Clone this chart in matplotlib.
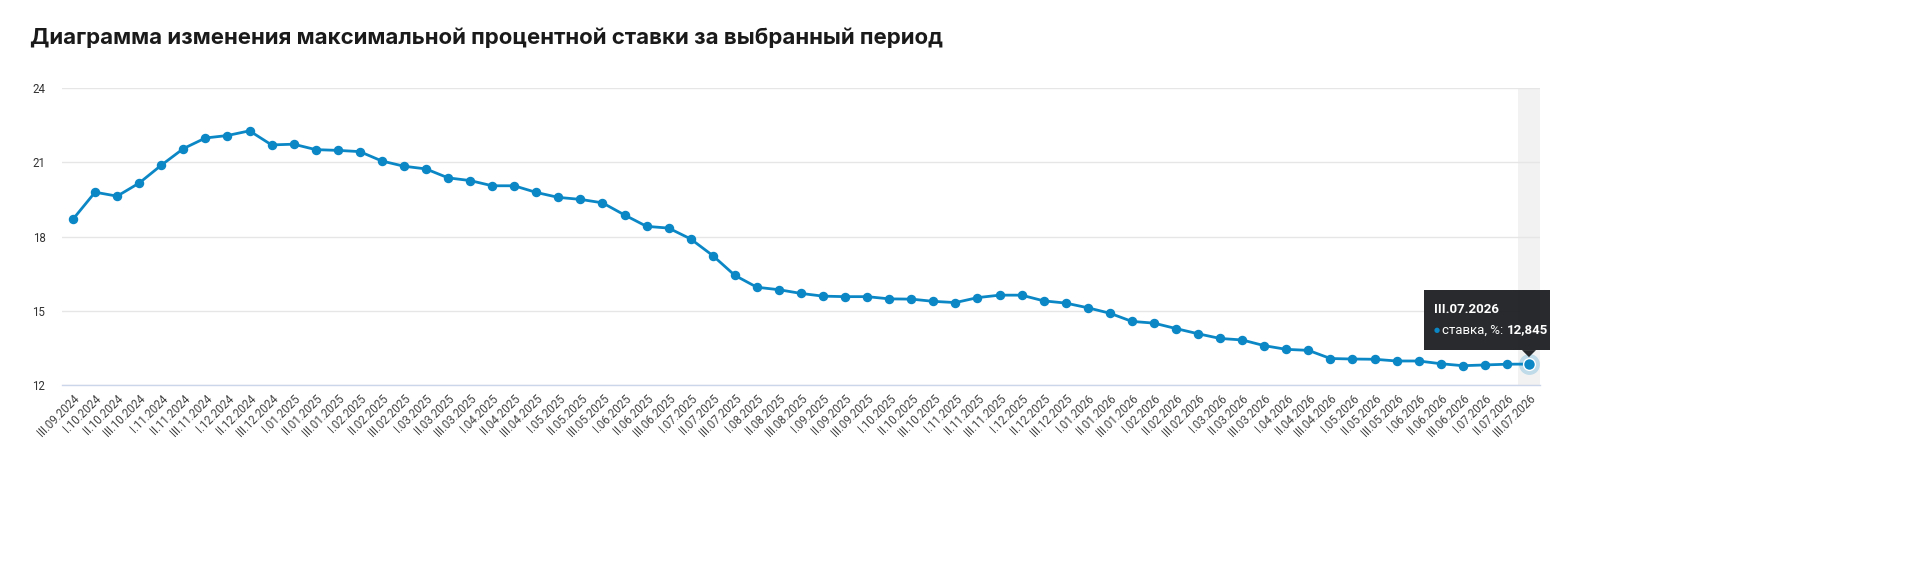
import matplotlib
matplotlib.use('Agg')
import matplotlib.pyplot as plt
from matplotlib.patches import Rectangle, Polygon

plt.rcParams['font.family'] = ['Roboto', 'DejaVu Sans']

# dekads from III.09.2024 to III.07.2026
labels = ['III.09.2024']
for year, months in ((2024, range(10, 13)), (2025, range(1, 13)), (2026, range(1, 8))):
    for m in months:
        for d in ('I', 'II', 'III'):
            labels.append('%s.%02d.%d' % (d, m, year))

rates = [18.70, 19.79, 19.63, 20.16, 20.88, 21.55, 21.98, 22.08, 22.27, 21.70,
         21.73, 21.51, 21.48, 21.43, 21.05, 20.84, 20.73, 20.37, 20.26, 20.05,
         20.05, 19.78, 19.58, 19.50, 19.36, 18.87, 18.41, 18.34, 17.90, 17.23,
         16.43, 15.95, 15.85, 15.70, 15.59, 15.57, 15.57, 15.48, 15.47, 15.38,
         15.33, 15.53, 15.63, 15.63, 15.40, 15.31, 15.12, 14.90, 14.57, 14.50,
         14.28, 14.07, 13.88, 13.82, 13.59, 13.44, 13.40, 13.07, 13.05, 13.04,
         12.97, 12.97, 12.86, 12.78, 12.81, 12.84, 12.845]

title = 'Диаграмма изменения максимальной процентной ставки за выбранный период'
series_name = 'ставка, %'
yticks = [12, 15, 18, 21, 24]
blue = '#0b87c6'

W, H = 1920, 563
fig = plt.figure(figsize=(W / 100, H / 100), dpi=100)
ax = fig.add_axes([62 / W, 1 - 385 / H, (1540 - 62) / W, (385 - 88) / H])

x = list(range(len(rates)))
last = len(rates) - 1

ax.axvspan(last - 0.5, last + 0.5, color='#f2f2f2', zorder=0, lw=0)
ax.plot(x, rates, color=blue, lw=2.0, marker='o', ms=5.8, zorder=3,
        solid_joinstyle='round')
ax.plot([last], [rates[-1]], 'o', ms=15, color=blue, alpha=0.22, zorder=4, mec='none')
ax.plot([last], [rates[-1]], 'o', ms=8.5, color=blue, mec='white', mew=1, zorder=5)

ax.set_xlim(-0.5, last + 0.5)
ax.set_ylim(12, 24)
ax.set_yticks(yticks)
ax.set_yticklabels([str(t) for t in yticks])
ax.set_xticks(x)
ax.set_xticklabels(labels, rotation=45, ha='right', rotation_mode='anchor',
                   fontsize=8.3, color='#444444')
ax.tick_params(axis='x', length=0, pad=5)
ax.tick_params(axis='y', length=0, pad=12, labelsize=8.3, labelcolor='#333333')
ax.grid(axis='y', color='#e6e6e6', lw=1)
ax.set_axisbelow(True)
for s in ('top', 'right', 'left'):
    ax.spines[s].set_visible(False)
ax.spines['bottom'].set_color('#ccd6eb')
ax.spines['bottom'].set_linewidth(1)

fig.text(30 / W, 1 - 38 / H, title, fontsize=16, fontweight='bold',
         color='#1a1a1a', va='center', ha='left', family=['Inter', 'DejaVu Sans'])

# tooltip at the hovered point
px, py = ax.transData.transform((last, rates[-1]))
bx0, bx1 = px - 105, px + 21
by0, by1 = py + 14, py + 74
fig.patches.append(Rectangle((bx0, by0), bx1 - bx0, by1 - by0, transform=None,
                             facecolor='#1f2124', edgecolor='none', alpha=0.96, zorder=10))
fig.patches.append(Polygon([(px - 7, by0), (px + 7, by0), (px, py + 7)], closed=True,
                           transform=None, facecolor='#1f2124', edgecolor='none',
                           alpha=0.96, zorder=10))
fig.text((bx0 + 10) / W, (by1 - 19) / H, labels[-1], color='white', fontsize=9.5,
         fontweight='bold', va='center', ha='left', zorder=11)
fig.text((bx0 + 10) / W, (by0 + 20) / H, '\u25cf', color=blue, fontsize=5,
         va='center', ha='left', zorder=11, family='DejaVu Sans')
t1 = fig.text((bx0 + 18) / W, (by0 + 20) / H, series_name + ': ', color='white',
              fontsize=9.5, va='center', ha='left', zorder=11)
r = fig.canvas.get_renderer()
ext = t1.get_window_extent(renderer=r)
fig.text(ext.x1 / W, (by0 + 20) / H, ('%.3f' % rates[-1]).replace('.', ','),
         color='white', fontsize=9.5, fontweight='bold', va='center', ha='left', zorder=11)

fig.savefig('out.png', dpi=100, facecolor='white')
